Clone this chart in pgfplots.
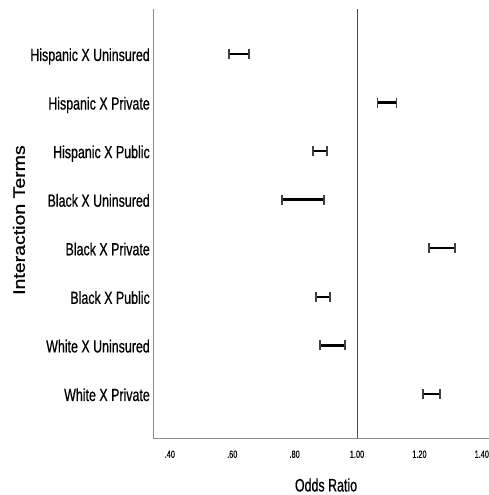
\documentclass[border=0pt]{standalone}
\usepackage{pgfplots}
\pgfplotsset{compat=1.18}
\usepackage{graphicx}
\usepackage{fontspec}
\setmainfont{Liberation Sans}
\newfontfamily\labfont[FakeStretch=0.71,FakeBold=0.6]{Liberation Sans}
\newfontfamily\tickfont[FakeStretch=0.7,FakeBold=0.4]{Liberation Sans}
\newfontfamily\xlabfont[FakeStretch=0.69,FakeBold=0.6]{Liberation Sans}
\newfontfamily\ylabfont[FakeBold=0.8]{Liberation Sans}
\begin{document}
\begin{tikzpicture}
\begin{axis}[
  at={(153pt,57pt)}, anchor=south west,
  scale only axis, width=336pt, height=429pt,
  xmin=0.346, xmax=1.423, ymin=0.094, ymax=8.926,
  axis lines=left, axis line style={-, draw=black!45, line width=0.8pt},
  xtick={0.4,0.6,0.8,1.0,1.2,1.4},
  xticklabels={.40,.60,.80,1.00,1.20,1.40},
  ytick={1,2,3,4,5,6,7,8},
  yticklabels={White X Private,White X Uninsured,Black X Public,Black X Private,Black X Uninsured,Hispanic X Public,Hispanic X Private,Hispanic X Uninsured},
  major tick length=0pt, tick style={draw=none},
  xticklabel style={font=\tickfont\fontsize{10.5}{12}\selectfont, anchor=north, yshift=-9pt},
  yticklabel style={font=\labfont\fontsize{17.5}{20}\selectfont, anchor=base east, inner sep=0pt, xshift=-3pt, yshift=-7pt},
  xlabel={Odds Ratio},
  xlabel style={font=\xlabfont\fontsize{18}{20}\selectfont, at={(axis description cs:0.515,0)}, anchor=center, yshift=-47pt},
  ylabel={\scalebox{1}[0.85]{Interaction Terms}},
  ylabel style={font=\ylabfont\fontsize{19.5}{22}\selectfont, at={(axis description cs:-0.399,0.508)}, anchor=center},
  clip=false,
  ci/.style={black, line width=2.4pt, mark=|, mark size=5pt, mark options={draw=black!75, line width=1.4pt}},
]
\addplot[black!70, line width=1pt] coordinates {(1.0,0.094) (1.0,8.926)};
\addplot[ci] coordinates {(0.590,8) (0.654,8)};
\addplot[ci] coordinates {(1.066,7) (1.127,7)};
\addplot[ci] coordinates {(0.859,6) (0.904,6)};
\addplot[ci] coordinates {(0.760,5) (0.894,5)};
\addplot[ci] coordinates {(1.231,4) (1.314,4)};
\addplot[ci] coordinates {(0.869,3) (0.913,3)};
\addplot[ci] coordinates {(0.881,2) (0.962,2)};
\addplot[ci] coordinates {(1.212,1) (1.266,1)};
\end{axis}
\pgfresetboundingbox
\path[use as bounding box] (0,0) rectangle (489pt,495pt);
\end{tikzpicture}
\end{document}
